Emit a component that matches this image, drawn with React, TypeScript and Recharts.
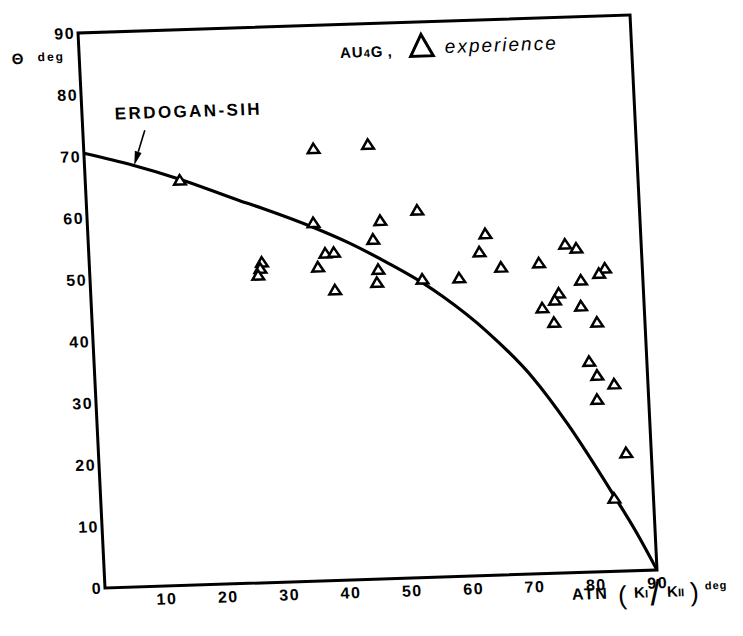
import React from "react";
import {
  ComposedChart,
  XAxis,
  YAxis,
  Line,
  Scatter,
  ReferenceArea,
  ReferenceLine,
} from "recharts";

// Erdogan–Sih curve
const curveX = [0, 7.9, 15.4, 25, 28.7, 36.7, 42.6, 48.5, 54, 57.3, 64.2, 71.3, 76.5, 83.4, 87, 90];
const curveY = [70.5, 68.3, 65.8, 62.0, 60.6, 57.3, 54.5, 51.2, 47.8, 45.4, 39.5, 31.8, 24.3, 12.6, 6.1, 0];

// AU4G experiments (triangles)
const expX = [
  15.4, 37.4, 46.3, 36.8, 47.7, 46.4, 38.5, 39.9, 37.2, 39.8, 28.1, 27.8, 27.4, 47.0, 46.7,
  54.1, 53.8, 64.7, 63.6, 67.0, 60.1, 73.2, 77.6, 79.4, 83.9, 82.9, 79.9, 76.2, 75.5, 73.4,
  79.7, 75.2, 82.2, 80.6, 81.8, 84.5, 81.6, 85.9, 83.6,
];
const expY = [
  65.7, 70.1, 70.5, 58.1, 58.1, 55.1, 53.1, 53.2, 50.9, 47.1, 52.0, 51.0, 49.9, 50.2, 48.1,
  48.4, 59.6, 55.4, 52.5, 49.9, 48.4, 50.4, 53.3, 52.6, 49.2, 48.4, 47.4, 45.4, 44.3, 43.1,
  43.2, 40.7, 40.5, 34.2, 31.9, 30.4, 28.0, 19.2, 11.9,
];

const xTicks = [10, 20, 30, 40, 50, 60, 70, 80, 90];
const yTicks = [0, 10, 20, 30, 40, 50, 60, 70, 80, 90];

// annotation arrow (data coordinates) pointing at the curve
const arrowFrom = { x: 10.1, y: 73.9 };
const arrowTo = { x: 8.1, y: 68.3 };

const curveData = curveX.map((x, i) => ({ x, y: curveY[i] }));
const expData = expX.map((x, i) => ({ x, y: expY[i] }));

const FONT = "'Liberation Sans', Arial, Helvetica, sans-serif";

const tickStyle = {
  fill: "#000",
  fontFamily: FONT,
  fontWeight: 700,
  fontSize: 16,
  letterSpacing: 1.5,
};

const Triangle = (props: any) => {
  const { cx, cy } = props;
  if (cx == null || cy == null) return <g />;
  const w = 5.8;
  const h = 4.7;
  return (
    <path
      d={`M${cx},${cy - h} L${cx - w},${cy + h} L${cx + w},${cy + h} Z`}
      fill="#fff"
      stroke="#000"
      strokeWidth={2.5}
      strokeLinejoin="miter"
    />
  );
};

const Arrow = (props: any) => {
  const { x1, y1, x2, y2 } = props;
  const dx = x2 - x1;
  const dy = y2 - y1;
  const len = Math.sqrt(dx * dx + dy * dy) || 1;
  const ux = dx / len;
  const uy = dy / len;
  const hl = 14;
  const hw = 3.5;
  const bx = x2 - ux * hl;
  const by = y2 - uy * hl;
  return (
    <g>
      <line x1={x1} y1={y1} x2={bx} y2={by} stroke="#000" strokeWidth={1.6} />
      <path
        d={`M${x2},${y2} L${bx - uy * hw},${by + ux * hw} L${bx + uy * hw},${by - ux * hw} Z`}
        fill="#000"
      />
    </g>
  );
};

export default function App() {
  return (
    <div
      style={{
        position: "relative",
        width: 735,
        height: 620,
        background: "#fff",
        transform: "matrix(1,-0.0326,0.0486,1,0,0)",
        transformOrigin: "97px 580px",
      }}
    >
      <ComposedChart
        width={735}
        height={620}
        margin={{ top: 25, right: 86, bottom: 10, left: 0 }}
      >
        <XAxis
          type="number"
          dataKey="x"
          domain={[0, 90]}
          ticks={xTicks}
          interval={0}
          allowDataOverflow
          axisLine={false}
          tickLine={false}
          tickSize={0}
          tickMargin={7}
          height={30}
          tick={tickStyle}
        />
        <YAxis
          type="number"
          dataKey="y"
          domain={[0, 90]}
          ticks={yTicks}
          interval={0}
          allowDataOverflow
          axisLine={false}
          tickLine={false}
          tickSize={0}
          tickMargin={3}
          width={97}
          tick={tickStyle}
        />
        <ReferenceArea
          x1={0}
          x2={90}
          y1={0}
          y2={90}
          fill="none"
          fillOpacity={0}
          stroke="#000"
          strokeWidth={3}
          ifOverflow="visible"
        />
        <Line
          data={curveData}
          dataKey="y"
          type="monotone"
          stroke="#000"
          strokeWidth={3.2}
          dot={false}
          activeDot={false}
          isAnimationActive={false}
        />
        <Scatter
          data={expData}
          dataKey="y"
          shape={<Triangle />}
          isAnimationActive={false}
        />
        <ReferenceLine
          segment={[arrowFrom, arrowTo]}
          shape={<Arrow />}
          ifOverflow="visible"
        />
      </ComposedChart>
      <svg
        width={735}
        height={620}
        style={{ position: "absolute", left: 0, top: 0, pointerEvents: "none", overflow: "visible" }}
      >
        <g fontFamily={FONT} fill="#000">
          {/* y axis title */}
          <text x={35.5} y={54} fontSize={15} fontWeight={700} textAnchor="middle">Θ</text>
          <text x={55.5} y={52} fontSize={12} fontWeight={700} letterSpacing={2}>deg</text>

          {/* curve label */}
          <text x={129.8} y={112.5} fontSize={17} fontWeight={700} letterSpacing={2.4}>ERDOGAN-SIH</text>

          {/* legend */}
          <text x={357.6} y={58.5} fontSize={15} fontWeight={700} letterSpacing={1}>
            AU<tspan fontSize={11}>4</tspan>G
            <tspan dx={4}>,</tspan>
          </text>
          <path d="M439.3,37.6 L428,59.2 L450.6,59.2 Z" fill="none" stroke="#000" strokeWidth={3} />
          <text x={462.5} y={57} fontSize={19} fontStyle="italic" letterSpacing={2}>experience</text>

          {/* x axis title */}
          <text x={563} y={607} fontSize={16} fontWeight={700} letterSpacing={1.5}>ATN</text>
          <text x={609} y={613} fontSize={26}>(</text>
          <text x={625} y={607} fontSize={15} fontWeight={700}>K<tspan fontSize={11}>I</tspan></text>
          <text x={641} y={615} fontSize={36}>/</text>
          <text x={658} y={607} fontSize={15} fontWeight={700}>K<tspan fontSize={11}>II</tspan></text>
          <text x={681} y={612} fontSize={26}>)</text>
          <text x={696} y={601} fontSize={11} fontWeight={700} letterSpacing={1}>deg</text>
        </g>
      </svg>
    </div>
  );
}
